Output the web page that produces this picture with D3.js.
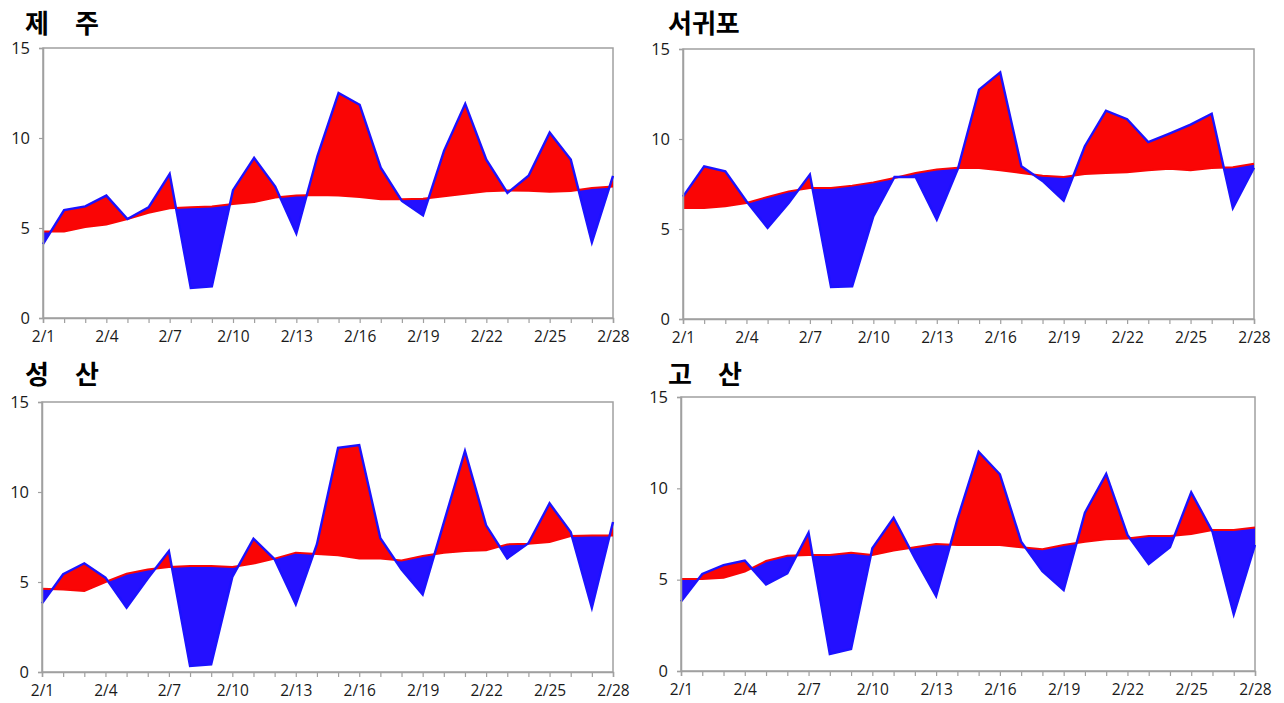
<!DOCTYPE html>
<html><head><meta charset="utf-8">
<script src="https://cdn.jsdelivr.net/npm/d3@7"></script>
<style>
html,body{margin:0;padding:0;background:#fff;}
svg{display:block;}
</style></head>
<body>
<svg id="chart" width="1284" height="703"></svg>
<script>
const days = ["2/1","2/2","2/3","2/4","2/5","2/6","2/7","2/8","2/9","2/10","2/11","2/12","2/13","2/14",
              "2/15","2/16","2/17","2/18","2/19","2/20","2/21","2/22","2/23","2/24","2/25","2/26","2/27","2/28"];
const xTickLabels = ["2/1","2/4","2/7","2/10","2/13","2/16","2/19","2/22","2/25","2/28"];
const yTickValues = [0, 5, 10, 15];
const stations = ["제　주", "서귀포", "성　산", "고　산"];

const jejuObs   = [4.1,6.0,6.2,6.8,5.5,6.15,8.0,1.67,1.76,7.1,8.9,7.3,4.7,9.0,12.5,11.85,8.35,6.5,5.7,9.3,11.9,8.8,6.95,7.9,10.3,8.8,4.2,7.9];
const jejuNorm  = [4.8,4.8,5.05,5.2,5.5,5.85,6.1,6.15,6.2,6.33,6.44,6.7,6.8,6.83,6.8,6.72,6.6,6.6,6.63,6.76,6.9,7.04,7.09,7.07,7.02,7.06,7.22,7.3];

const seogwipoObs  = [6.8,8.48,8.2,6.54,5.06,6.44,8.02,1.78,1.81,5.7,7.89,7.89,5.52,8.35,12.74,13.7,8.48,7.67,6.57,9.6,11.57,11.1,9.83,10.3,10.8,11.4,6.17,8.4];
const seogwipoNorm = [6.17,6.17,6.26,6.44,6.78,7.09,7.28,7.28,7.41,7.59,7.83,8.11,8.3,8.4,8.39,8.26,8.11,7.96,7.89,8.06,8.11,8.15,8.26,8.35,8.26,8.39,8.43,8.63];

const seongsanObs  = [3.81,5.43,6.04,5.24,3.57,5.19,6.72,0.33,0.43,5.28,7.41,6.26,3.76,7.1,12.45,12.61,7.43,5.7,4.31,8.3,12.28,8.15,6.31,7.15,9.37,7.78,3.57,8.33];
const seongsanNorm = [4.63,4.59,4.5,5.0,5.46,5.7,5.83,5.89,5.89,5.83,6.02,6.3,6.63,6.55,6.48,6.3,6.3,6.2,6.44,6.63,6.72,6.76,7.09,7.13,7.22,7.56,7.59,7.59];

const gosanObs  = [3.8,5.31,5.8,6.04,4.74,5.35,7.57,0.93,1.2,6.72,8.39,6.17,4.1,8.3,12.0,10.77,7.08,5.47,4.43,8.67,10.79,7.45,5.86,6.77,9.78,7.63,3.1,6.9];
const gosanNorm = [5.04,5.04,5.11,5.44,6.02,6.31,6.35,6.35,6.48,6.35,6.59,6.77,6.95,6.9,6.9,6.9,6.77,6.66,6.9,7.08,7.21,7.26,7.39,7.39,7.5,7.72,7.72,7.85];

const seriesObs  = [jejuObs, seogwipoObs, seongsanObs, gosanObs];
const seriesNorm = [jejuNorm, seogwipoNorm, seongsanNorm, gosanNorm];

// layout (pixel frames of each panel)
const frames = [
  {left:43,  right:613,  top:48,  bottom:318, tx:25,  ty:33},
  {left:683, right:1254, top:49,  bottom:319, tx:668, ty:33},
  {left:42,  right:613,  top:402, bottom:672, tx:25,  ty:384},
  {left:681, right:1255, top:397, bottom:671, tx:668, ty:384}
];

const RED = "#fa0505", BLUE = "#2410ff", BLUE_LINE = "#1b12ff", AXIS = "#a0a0a0";
const svg = d3.select("#chart");
const defs = svg.append("defs");

frames.forEach((f, i) => {
  const obs = seriesObs[i], norm = seriesNorm[i];
  const data = days.map((d, k) => ({day: d, obs: obs[k], norm: norm[k]}));
  const x = d3.scalePoint().domain(days).range([f.left, f.right]);
  const y = d3.scaleLinear().domain([0, 15]).range([f.bottom, f.top]);
  const g = svg.append("g");

  // frame
  g.append("rect").attr("x", f.left).attr("y", f.top)
    .attr("width", f.right - f.left).attr("height", f.bottom - f.top)
    .attr("fill", "none").attr("stroke", AXIS).attr("stroke-width", 1.5);

  // clip paths
  const above = d3.area().x(d => x(d.day)).y0(f.top - 20).y1(d => y(d.norm));
  const below = d3.area().x(d => x(d.day)).y0(f.bottom + 20).y1(d => y(d.norm));
  defs.append("clipPath").attr("id", "ca" + i).append("path").attr("d", above(data));
  defs.append("clipPath").attr("id", "cb" + i).append("path").attr("d", below(data));

  const band = d3.area().x(d => x(d.day)).y0(d => y(d.norm)).y1(d => y(d.obs));
  g.append("path").attr("d", band(data)).attr("fill", RED).attr("clip-path", `url(#ca${i})`);
  g.append("path").attr("d", band(data)).attr("fill", BLUE).attr("clip-path", `url(#cb${i})`);

  const lineNorm = d3.line().x(d => x(d.day)).y(d => y(d.norm));
  const lineObs = d3.line().x(d => x(d.day)).y(d => y(d.obs));
  g.append("path").attr("d", lineNorm(data)).attr("fill", "none").attr("stroke", RED).attr("stroke-width", 2);
  g.append("path").attr("d", lineObs(data)).attr("fill", "none").attr("stroke", BLUE_LINE)
    .attr("stroke-width", 2.4).attr("stroke-linejoin", "miter");

  // axes
  const ya = g.append("g").attr("transform", `translate(${f.left},0)`)
    .call(d3.axisLeft(y).tickValues(yTickValues).tickSize(4).tickPadding(9).tickFormat(d3.format("d")));
  const xa = g.append("g").attr("transform", `translate(0,${f.bottom})`)
    .call(d3.axisBottom(x).tickSize(5).tickPadding(8).tickFormat(d => xTickLabels.includes(d) ? d : ""));
  [ya, xa].forEach(a => {
    a.select(".domain").attr("stroke", AXIS).attr("stroke-width", 1.5);
    a.selectAll(".tick line").attr("stroke", AXIS).attr("stroke-width", 1.2);
    a.selectAll("text").attr("font-family", "'Open Sans', 'Noto Sans', sans-serif")
      .attr("fill", "#1a1a1a");
  });
  ya.selectAll("text").attr("font-size", 16.5);
  xa.selectAll("text").attr("font-size", 15.5);

  // title
  svg.append("text").attr("x", f.tx).attr("y", f.ty)
    .attr("font-family", "'Noto Sans CJK KR', sans-serif").attr("font-weight", "bold")
    .attr("font-size", 26).attr("fill", "#000").text(stations[i]);
});
</script>
</body></html>
